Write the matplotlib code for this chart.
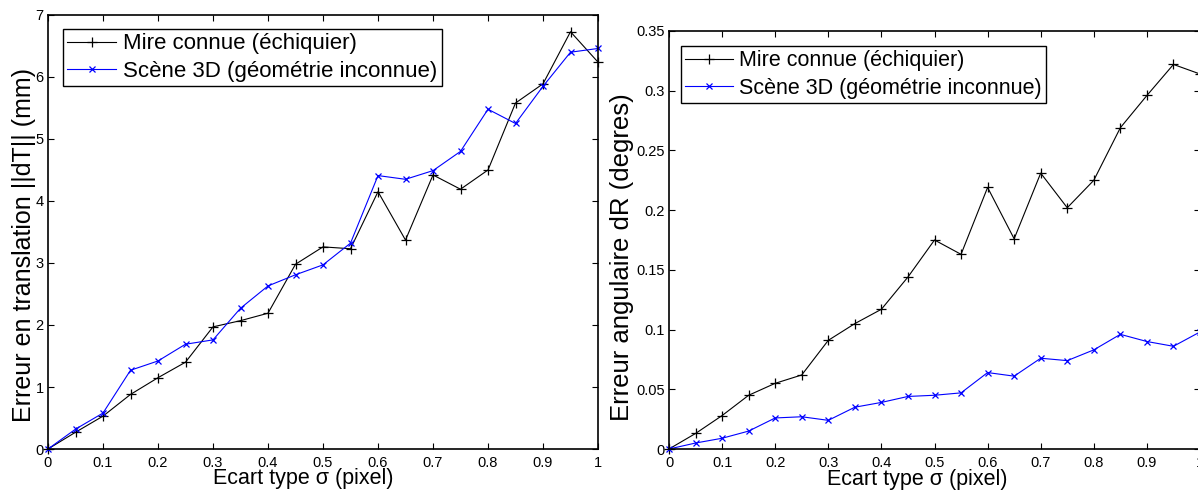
import matplotlib
matplotlib.use("Agg")
import matplotlib.pyplot as plt
from matplotlib.ticker import FuncFormatter, MultipleLocator

plt.rcParams['font.family'] = ['Liberation Sans', 'DejaVu Sans']

# ecart type sigma (pixel)
sigma = [0.0, 0.05, 0.1, 0.15, 0.2, 0.25, 0.3, 0.35, 0.4, 0.45, 0.5,
         0.55, 0.6, 0.65, 0.7, 0.75, 0.8, 0.85, 0.9, 0.95, 1.0]

# erreur en translation ||dT|| (mm)
dT_mire = [0.0, 0.27, 0.53, 0.88, 1.15, 1.40, 1.97, 2.07, 2.19, 2.98, 3.26,
           3.23, 4.15, 3.37, 4.42, 4.19, 4.50, 5.58, 5.89, 6.73, 6.24]
dT_scene = [0.0, 0.32, 0.58, 1.27, 1.42, 1.69, 1.76, 2.27, 2.63, 2.81, 2.97,
            3.32, 4.41, 4.35, 4.49, 4.80, 5.48, 5.25, 5.85, 6.40, 6.46]

# erreur angulaire dR (degres)
dR_mire = [0.0, 0.013, 0.028, 0.045, 0.055, 0.062, 0.091, 0.105, 0.117, 0.144, 0.175,
           0.163, 0.219, 0.176, 0.231, 0.202, 0.225, 0.269, 0.296, 0.322, 0.314]
dR_scene = [0.0, 0.005, 0.009, 0.015, 0.026, 0.027, 0.024, 0.035, 0.039, 0.044, 0.045,
            0.047, 0.064, 0.061, 0.076, 0.074, 0.083, 0.096, 0.090, 0.086, 0.098]

labels = ['Mire connue (échiquier)', 'Scène 3D (géométrie inconnue)']
xlabel = 'Ecart type σ (pixel)'

W, H = 1198, 490
fig = plt.figure(figsize=(W / 100, H / 100), dpi=100)


def px_axes(l, r, t, b):
    return fig.add_axes([l / W, (H - b) / H, (r - l) / W, (b - t) / H])


def style(ax, ylim, ystep):
    ax.set_xlim(0, 1)
    ax.set_ylim(0, ylim)
    ax.xaxis.set_major_locator(MultipleLocator(0.1))
    ax.yaxis.set_major_locator(MultipleLocator(ystep))
    fmt = FuncFormatter(lambda v, p: '%g' % round(v, 4))
    ax.xaxis.set_major_formatter(fmt)
    ax.yaxis.set_major_formatter(fmt)
    ax.tick_params(direction='in', length=4, width=0.8, top=True, right=True,
                   labelsize=10.5, pad=3)
    ax.tick_params(axis='x', pad=5)
    for s in ax.spines.values():
        s.set_linewidth(1.2)


def draw(ax, y1, y2):
    ax.plot(sigma, y1, '-+', color='black', lw=0.8, ms=7, mew=0.9, clip_on=False)
    ax.plot(sigma, y2, '-x', color='blue', lw=0.8, ms=5, mew=0.9, clip_on=False)


def add_legend(ax, x0, y0, size):
    leg = ax.legend(labels, loc='upper left', bbox_to_anchor=(x0, y0),
                    borderaxespad=0, fontsize=size, fancybox=False, edgecolor='black',
                    framealpha=1, handlelength=2.2, handletextpad=0.3,
                    borderpad=0.2, labelspacing=0.3)
    leg.get_frame().set_linewidth(1.0)


# left: translation
ax1 = px_axes(48, 598, 15, 449)
draw(ax1, dT_mire, dT_scene)
style(ax1, 7, 1)
add_legend(ax1, 0.027, 0.968, 16)
ax1.set_xlabel(xlabel, fontsize=15.5)
ax1.xaxis.set_label_coords(0.4636, -0.069)
ax1.xaxis.label.set_va('center')
ax1.set_ylabel('Erreur en translation ||dT|| (mm)', fontsize=18)
ax1.yaxis.set_label_coords(-0.0436, 0.471)
ax1.yaxis.label.set_va('center')

# right: rotation
ax2 = px_axes(669, 1200, 31, 449)
draw(ax2, dR_mire, dR_scene)
style(ax2, 0.35, 0.05)
add_legend(ax2, 0.0226, 0.964, 15.5)
ax2.set_xlabel(xlabel, fontsize=15.5)
ax2.xaxis.set_label_coords(0.467, -0.0718)
ax2.xaxis.label.set_va('center')
ax2.set_ylabel('Erreur angulaire dR (degres)', fontsize=18.5)
ax2.yaxis.set_label_coords(-0.088, 0.46)
ax2.yaxis.label.set_va('center')

fig.savefig('out.png', dpi=100)
